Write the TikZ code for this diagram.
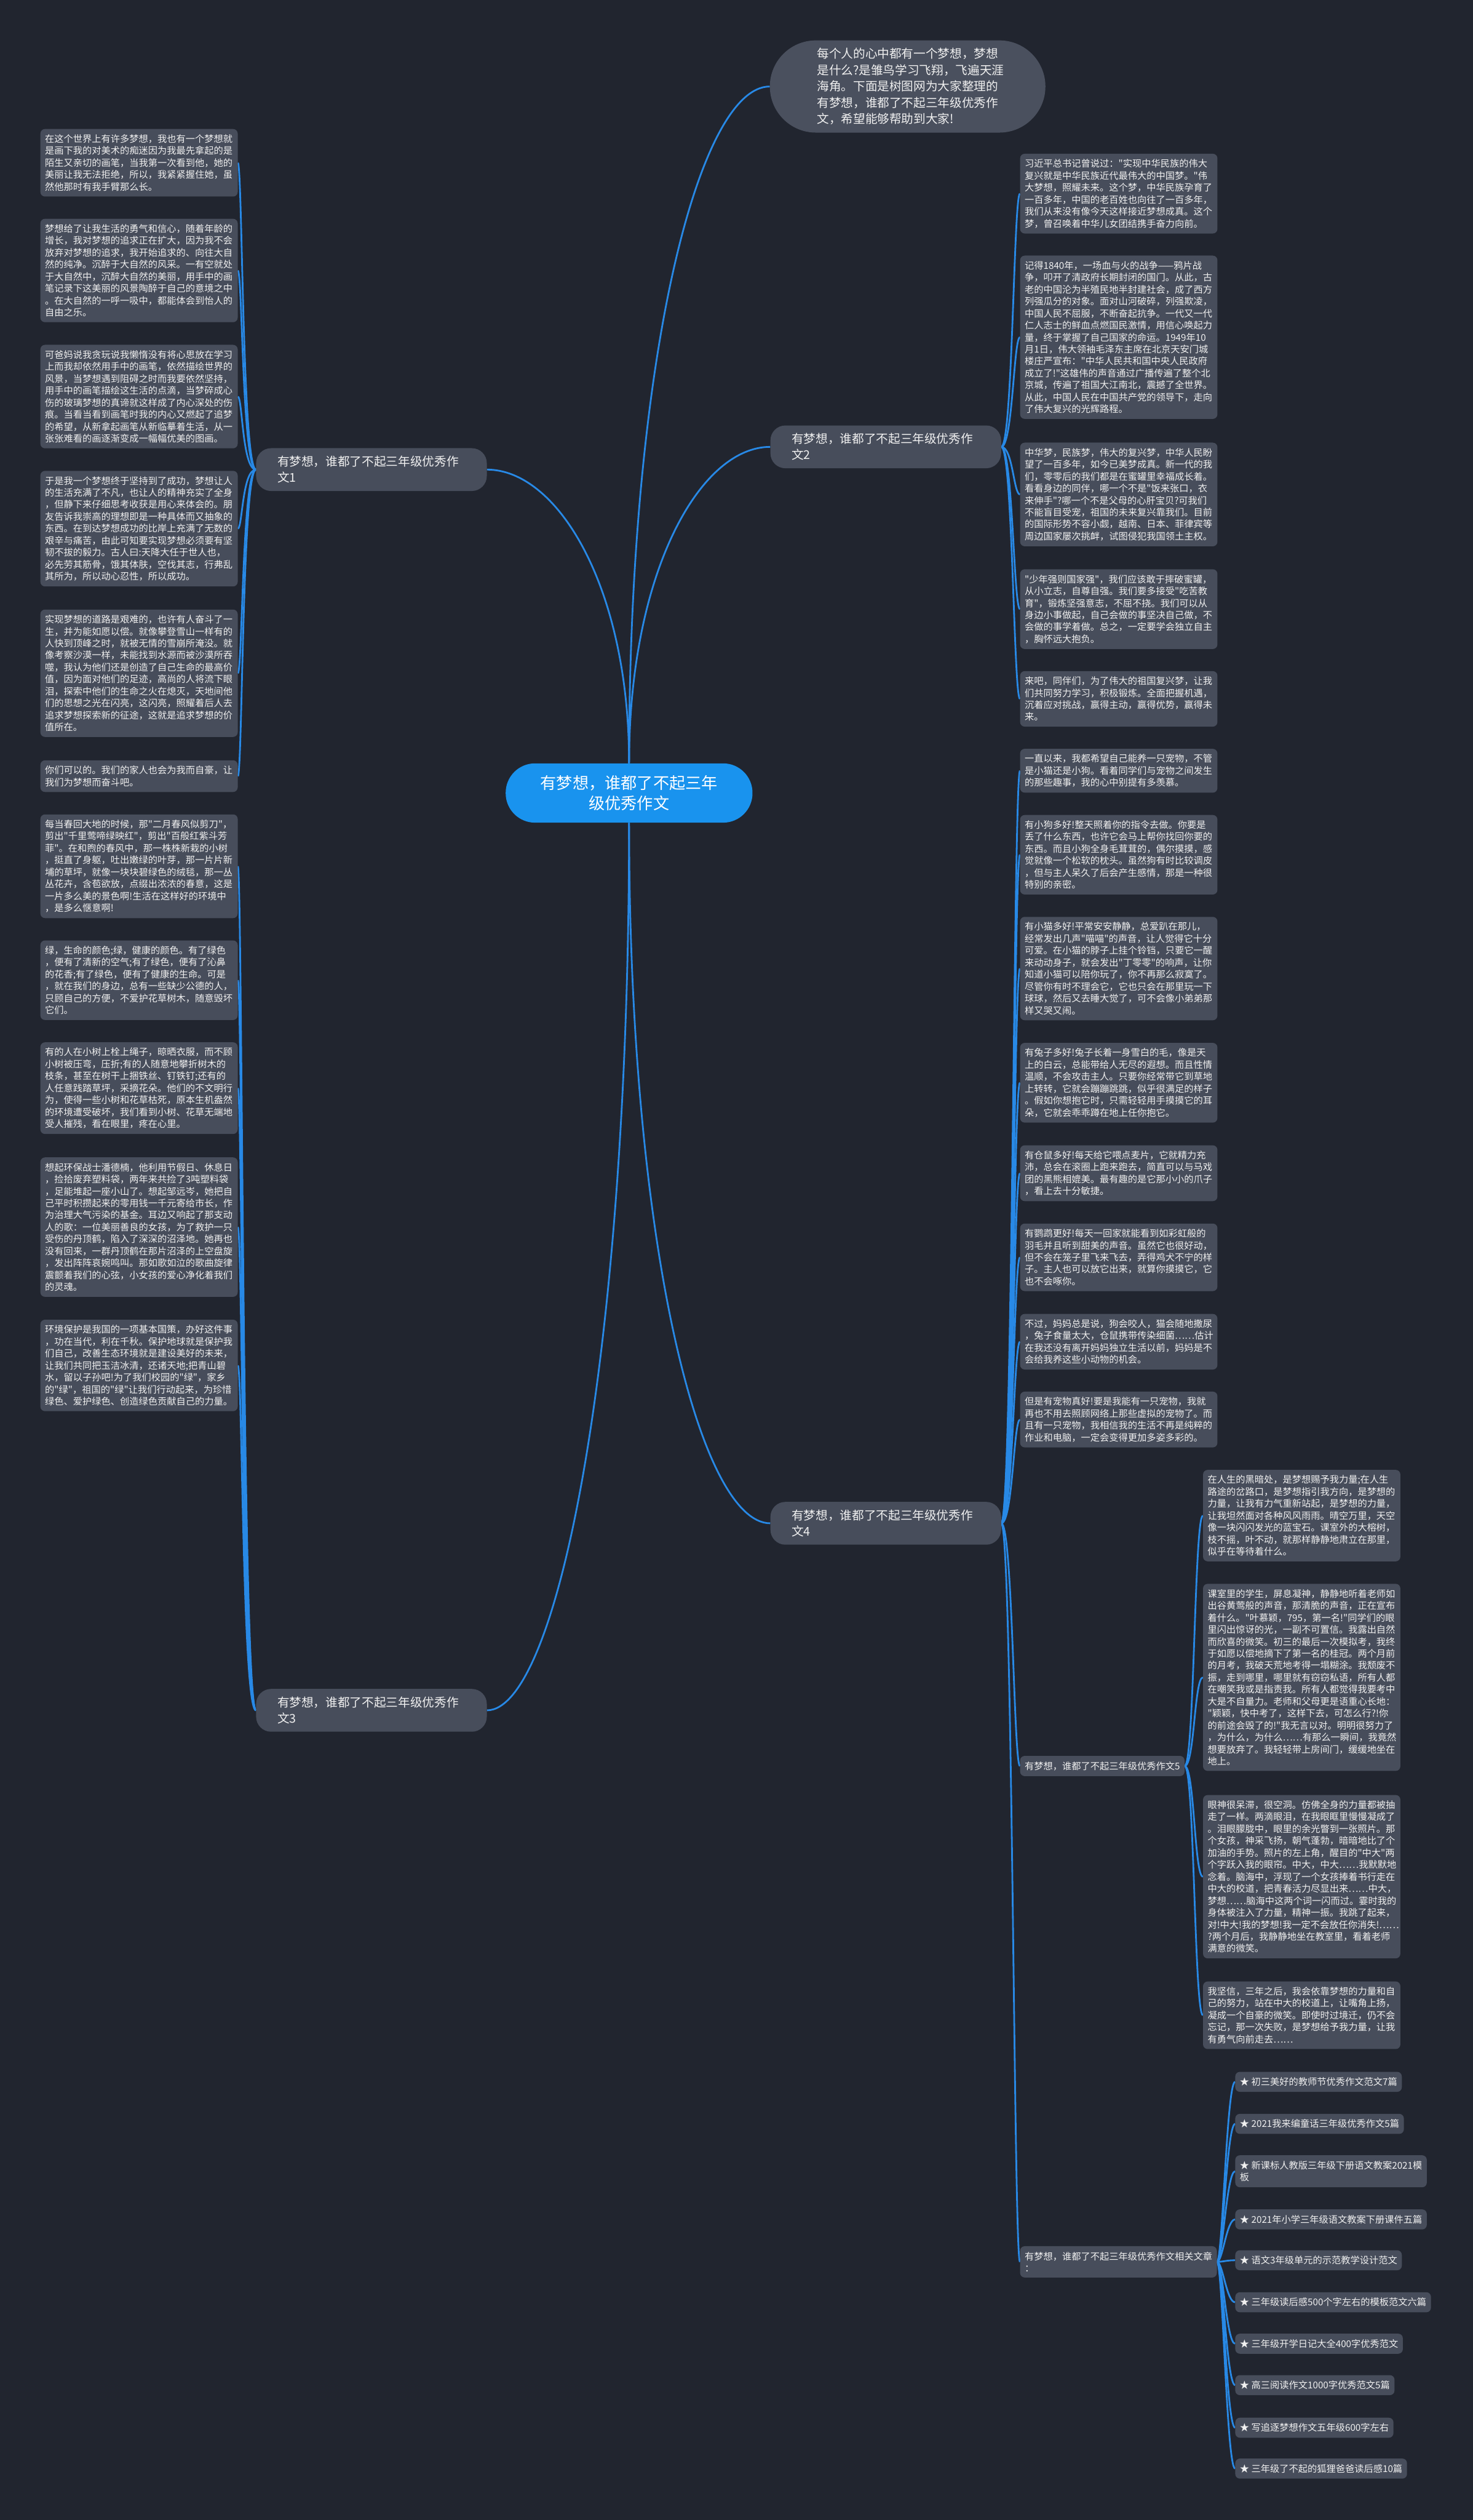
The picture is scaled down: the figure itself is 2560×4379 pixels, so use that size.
\documentclass[tikz,border=0pt]{standalone}
\usepackage{fontspec}
\newfontfamily\zhfont{Noto Sans CJK SC}
\usetikzlibrary{backgrounds}

\definecolor{bgc}{RGB}{33,37,47}
\definecolor{boxc}{RGB}{71,77,91}
\definecolor{topc}{RGB}{74,80,94}
\definecolor{ctrc}{RGB}{25,147,238}
\definecolor{linkc}{RGB}{40,137,230}
\definecolor{txtc}{RGB}{240,240,240}

\newcommand{\leaffont}{\zhfont\fontsize{16.3pt}{20.8pt}\selectfont}
\newcommand{\topicfont}{\zhfont\fontsize{21pt}{28pt}\selectfont}
\newcommand{\rootfont}{\zhfont\fontsize{28pt}{36pt}\selectfont}
\newcommand{\introfont}{\zhfont\fontsize{21pt}{28.3pt}\selectfont}

\tikzset{
  leaf/.style={fill=boxc, text=txtc, rounded corners=8pt, font=\leaffont,
    text width=327pt, align=left, inner xsep=8pt, inner ysep=9.5pt, anchor=north west},
  item/.style={fill=boxc, text=txtc, rounded corners=8pt, font=\leaffont,
    align=left, inner xsep=8pt, inner ysep=9.8pt, anchor=north west},
  topic/.style={fill=boxc, text=txtc, rounded corners=26pt, font=\topicfont,
    text width=327pt, align=left, inner xsep=37pt, inner ysep=13.5pt, anchor=west},
  link/.style={draw=linkc, line width=3pt},
}

\begin{document}
\begin{tikzpicture}[x=1pt,y=-1pt]
\useasboundingbox (0,0) rectangle (2560,4379);

% centre and intro
\node[fill=ctrc, text=white, rounded corners=51pt, font=\rootfont, align=center,
  minimum width=429pt, minimum height=103pt] (ctr) at (1093.5,1378)
  {有梦想，谁都了不起三年\\级优秀作文};
\node[fill=topc, text=txtc, rounded corners=80pt, font=\introfont, text width=315pt,
  align=left, inner xsep=82pt, inner ysep=13.5pt, anchor=north west] (intro) at (1338,70)
  {每个人的心中都有一个梦想，梦想\\是什么?是雏鸟学习飞翔，飞遍天涯\\海角。下面是树图网为大家整理的\\有梦想，谁都了不起三年级优秀作\\文，希望能够帮助到大家!};

% main topics
\node[topic] (b1) at (445,816) {有梦想，谁都了不起三年级优秀作\\文1};
\node[topic] (b2) at (1339,776.5) {有梦想，谁都了不起三年级优秀作\\文2};
\node[topic] (b3) at (445,2972) {有梦想，谁都了不起三年级优秀作\\文3};
\node[topic] (b4) at (1339,2647) {有梦想，谁都了不起三年级优秀作\\文4};

% topic 1
\node[leaf] (l1) at (70,224) {在这个世界上有许多梦想，我也有一个梦想就\\是画下我的对美术的痴迷因为我最先拿起的是\\陌生又亲切的画笔，当我第一次看到他，她的\\美丽让我无法拒绝，所以，我紧紧握住她，虽\\然他那时有我手臂那么长。};
\node[leaf] (l2) at (70,380) {梦想给了让我生活的勇气和信心，随着年龄的\\增长，我对梦想的追求正在扩大，因为我不会\\放弃对梦想的追求，我开始追求的、向往大自\\然的纯净。沉醉于大自然的风采。一有空就处\\于大自然中，沉醉大自然的美丽，用手中的画\\笔记录下这美丽的风景陶醉于自己的意境之中\\。在大自然的一呼一吸中，都能体会到怡人的\\自由之乐。};
\node[leaf] (l3) at (70,599) {可爸妈说我贪玩说我懒惰没有将心思放在学习\\上而我却依然用手中的画笔，依然描绘世界的\\风景，当梦想遇到阻碍之时而我要依然坚持，\\用手中的画笔描绘这生活的点滴，当梦碎成心\\伤的玻璃梦想的真谛就这样成了内心深处的伤\\痕。当看当看到画笔时我的内心又燃起了追梦\\的希望，从新拿起画笔从新临摹着生活，从一\\张张难看的画逐渐变成一幅幅优美的图画。};
\node[leaf] (l4) at (70,818) {于是我一个梦想终于坚持到了成功，梦想让人\\的生活充满了不凡，也让人的精神充实了全身\\，但静下来仔细思考收获是用心来体会的。朋\\友告诉我崇高的理想即是一种具体而又抽象的\\东西。在到达梦想成功的比岸上充满了无数的\\艰辛与痛苦，由此可知要实现梦想必须要有坚\\韧不拔的毅力。古人曰:天降大任于世人也，\\必先劳其筋骨，饿其体肤，空伐其志，行弗乱\\其所为，所以动心忍性，所以成功。};
\node[leaf] (l5) at (70,1059) {实现梦想的道路是艰难的，也许有人奋斗了一\\生，并为能如愿以偿。就像攀登雪山一样有的\\人快到顶峰之时，就被无情的雪崩所淹没。就\\像考察沙漠一样，未能找到水源而被沙漠所吞\\噬，我认为他们还是创造了自己生命的最高价\\值，因为面对他们的足迹，高尚的人将流下眼\\泪，探索中他们的生命之火在熄灭，天地间他\\们的思想之光在闪亮，这闪亮，照耀着后人去\\追求梦想探索新的征途，这就是追求梦想的价\\值所在。};
\node[leaf] (l6) at (70,1321) {你们可以的。我们的家人也会为我而自豪，让\\我们为梦想而奋斗吧。};

% topic 3
\node[leaf] (l7) at (70,1415) {每当春回大地的时候，那"二月春风似剪刀"，\\剪出"千里莺啼绿映红"，剪出"百般红紫斗芳\\菲"。在和煦的春风中，那一株株新栽的小树\\，挺直了身躯，吐出嫩绿的叶芽，那一片片新\\埔的草坪，就像一块块碧绿色的绒毯，那一丛\\丛花卉，含苞欲放，点缀出浓浓的春意，这是\\一片多么美的景色啊!生活在这样好的环境中\\，是多么惬意啊!};
\node[leaf] (l8) at (70,1634) {绿，生命的颜色;绿，健康的颜色。有了绿色\\，便有了清新的空气;有了绿色，便有了沁鼻\\的花香;有了绿色，便有了健康的生命。可是\\，就在我们的身边，总有一些缺少公德的人，\\只顾自己的方便，不爱护花草树木，随意毁坏\\它们。};
\node[leaf] (l9) at (70,1811) {有的人在小树上栓上绳子，晾晒衣服，而不顾\\小树被压弯，压折;有的人随意地攀折树木的\\枝条，甚至在树干上捆铁丝、钉铁钉;还有的\\人任意践踏草坪，采摘花朵。他们的不文明行\\为，使得一些小树和花草枯死，原本生机盎然\\的环境遭受破坏，我们看到小树、花草无端地\\受人摧残，看在眼里，疼在心里。};
\node[leaf] (l10) at (70,2011) {想起环保战士潘德楠，他利用节假日、休息日\\，捡拾废弃塑料袋，两年来共捡了3吨塑料袋\\，足能堆起一座小山了。想起邹远岑，她把自\\己平时积攒起来的零用钱一千元寄给市长，作\\为治理大气污染的基金。耳边又响起了那支动\\人的歌：一位美丽善良的女孩，为了救护一只\\受伤的丹顶鹤，陷入了深深的沼泽地。她再也\\没有回来，一群丹顶鹤在那片沼泽的上空盘旋\\，发出阵阵哀婉鸣叫。那如歌如泣的歌曲旋律\\震颤着我们的心弦，小女孩的爱心净化着我们\\的灵魂。};
\node[leaf] (l11) at (70,2293) {环境保护是我国的一项基本国策，办好这件事\\，功在当代，利在千秋。保护地球就是保护我\\们自己，改善生态环境就是建设美好的未来，\\让我们共同把玉洁冰清，还诸天地;把青山碧\\水，留以子孙吧!为了我们校园的"绿"，家乡\\的"绿"，祖国的"绿"让我们行动起来，为珍惜\\绿色、爱护绿色、创造绿色贡献自己的力量。};

% topic 2
\node[leaf] (r1) at (1773,267) {习近平总书记曾说过："实现中华民族的伟大\\复兴就是中华民族近代最伟大的中国梦。"伟\\大梦想，照耀未来。这个梦，中华民族孕育了\\一百多年，中国的老百姓也向往了一百多年，\\我们从来没有像今天这样接近梦想成真。这个\\梦，曾召唤着中华儿女团结携手奋力向前。};
\node[leaf] (r2) at (1773,444) {记得1840年，一场血与火的战争——鸦片战\\争，叩开了清政府长期封闭的国门。从此，古\\老的中国沦为半殖民地半封建社会，成了西方\\列强瓜分的对象。面对山河破碎，列强欺凌，\\中国人民不屈服，不断奋起抗争。一代又一代\\仁人志士的鲜血点燃国民激情，用信心唤起力\\量，终于掌握了自己国家的命运。1949年10\\月1日，伟大领袖毛泽东主席在北京天安门城\\楼庄严宣布："中华人民共和国中央人民政府\\成立了!"这雄伟的声音通过广播传遍了整个北\\京城，传遍了祖国大江南北，震撼了全世界。\\从此，中国人民在中国共产党的领导下，走向\\了伟大复兴的光辉路程。};
\node[leaf] (r3) at (1773,769) {中华梦，民族梦，伟大的复兴梦，中华人民盼\\望了一百多年，如今已美梦成真。新一代的我\\们，零零后的我们都是在蜜罐里幸福成长着。\\看看身边的同伴，哪一个不是"饭来张口，衣\\来伸手"?哪一个不是父母的心肝宝贝?可我们\\不能盲目受宠，祖国的未来复兴靠我们。目前\\的国际形势不容小觑，越南、日本、菲律宾等\\周边国家屡次挑衅，试图侵犯我国领土主权。};
\node[leaf] (r4) at (1773,989) {"少年强则国家强"，我们应该敢于摔破蜜罐，\\从小立志，自尊自强。我们要多接受"吃苦教\\育"，锻炼坚强意志，不屈不挠。我们可以从\\身边小事做起，自己会做的事坚决自己做，不\\会做的事学着做。总之，一定要学会独立自主\\，胸怀远大抱负。};
\node[leaf] (r5) at (1773,1166) {来吧，同伴们，为了伟大的祖国复兴梦，让我\\们共同努力学习，积极锻炼。全面把握机遇，\\沉着应对挑战，赢得主动，赢得优势，赢得未\\来。};

% topic 4
\node[leaf] (r6) at (1773,1301) {一直以来，我都希望自己能养一只宠物，不管\\是小猫还是小狗。看着同学们与宠物之间发生\\的那些趣事，我的心中别提有多羡慕。};
\node[leaf] (r7) at (1773,1416) {有小狗多好!整天照着你的指令去做。你要是\\丢了什么东西，也许它会马上帮你找回你要的\\东西。而且小狗全身毛茸茸的，偶尔摸摸，感\\觉就像一个松软的枕头。虽然狗有时比较调皮\\，但与主人呆久了后会产生感情，那是一种很\\特别的亲密。};
\node[leaf] (r8) at (1773,1593) {有小猫多好!平常安安静静，总爱趴在那儿，\\经常发出几声"喵喵"的声音，让人觉得它十分\\可爱。在小猫的脖子上挂个铃铛，只要它一醒\\来动动身子，就会发出"丁零零"的响声，让你\\知道小猫可以陪你玩了，你不再那么寂寞了。\\尽管你有时不理会它，它也只会在那里玩一下\\球球，然后又去睡大觉了，可不会像小弟弟那\\样又哭又闹。};
\node[leaf] (r9) at (1773,1812) {有兔子多好!兔子长着一身雪白的毛，像是天\\上的白云，总能带给人无尽的遐想。而且性情\\温顺，不会攻击主人。只要你经常带它到草地\\上转转，它就会蹦蹦跳跳，似乎很满足的样子\\。假如你想抱它时，只需轻轻用手摸摸它的耳\\朵，它就会乖乖蹲在地上任你抱它。};
\node[leaf] (r10) at (1773,1990) {有仓鼠多好!每天给它喂点麦片，它就精力充\\沛，总会在滚圈上跑来跑去，简直可以与马戏\\团的黑熊相媲美。最有趣的是它那小小的爪子\\，看上去十分敏捷。};
\node[leaf] (r11) at (1773,2126) {有鹦鹉更好!每天一回家就能看到如彩虹般的\\羽毛并且听到甜美的声音。虽然它也很好动，\\但不会在笼子里飞来飞去，弄得鸡犬不宁的样\\子。主人也可以放它出来，就算你摸摸它，它\\也不会啄你。};
\node[leaf] (r12) at (1773,2283) {不过，妈妈总是说，狗会咬人，猫会随地撒尿\\，兔子食量太大，仓鼠携带传染细菌……估计\\在我还没有离开妈妈独立生活以前，妈妈是不\\会给我养这些小动物的机会。};
\node[leaf] (r13) at (1773,2418) {但是有宠物真好!要是我能有一只宠物，我就\\再也不用去照顾网络上那些虚拟的宠物了。而\\且有一只宠物，我相信我的生活不再是纯粹的\\作业和电脑，一定会变得更加多姿多彩的。};
\node[item] (s5) at (1773,3051) {有梦想，谁都了不起三年级优秀作文5};
\node[item] (rel) at (1773,3903) {有梦想，谁都了不起三年级优秀作文相关文章\\：};

% topic 5
\node[leaf] (f1) at (2091,2554) {在人生的黑暗处，是梦想赐予我力量;在人生\\路途的岔路口，是梦想指引我方向，是梦想的\\力量，让我有力气重新站起，是梦想的力量，\\让我坦然面对各种风风雨雨。晴空万里，天空\\像一块闪闪发光的蓝宝石。课室外的大榕树，\\枝不摇，叶不动，就那样静静地肃立在那里，\\似乎在等待着什么。};
\node[leaf] (f2) at (2091,2752) {课室里的学生，屏息凝神，静静地听着老师如\\出谷黄莺般的声音，那清脆的声音，正在宣布\\着什么。"叶慕颖，795，第一名!"同学们的眼\\里闪出惊讶的光，一副不可置信。我露出自然\\而欣喜的微笑。初三的最后一次模拟考，我终\\于如愿以偿地摘下了第一名的桂冠。两个月前\\的月考，我破天荒地考得一塌糊涂。我颓废不\\振，走到哪里，哪里就有窃窃私语，所有人都\\在嘲笑我或是指责我。所有人都觉得我要考中\\大是不自量力。老师和父母更是语重心长地：\\"颖颖，快中考了，这样下去，可怎么行?!你\\的前途会毁了的!"我无言以对。明明很努力了\\，为什么，为什么……有那么一瞬间，我竟然\\想要放弃了。我轻轻带上房间门，缓缓地坐在\\地上。};
\node[leaf] (f3) at (2091,3119) {眼神很呆滞，很空洞。仿佛全身的力量都被抽\\走了一样。两滴眼泪，在我眼眶里慢慢凝成了\\。泪眼朦胧中，眼里的余光瞥到一张照片。那\\个女孩，神采飞扬，朝气蓬勃，暗暗地比了个\\加油的手势。照片的左上角，醒目的"中大"两\\个字跃入我的眼帘。中大，中大……我默默地\\念着。脑海中，浮现了一个女孩捧着书行走在\\中大的校道，把青春活力尽显出来……中大，\\梦想……脑海中这两个词一闪而过。霎时我的\\身体被注入了力量，精神一振。我跳了起来，\\对!中大!我的梦想!我一定不会放任你消失!……\\?两个月后，我静静地坐在教室里，看着老师\\满意的微笑。};
\node[leaf] (f4) at (2091,3443) {我坚信，三年之后，我会依靠梦想的力量和自\\己的努力，站在中大的校道上，让嘴角上扬，\\凝成一个自豪的微笑。即使时过境迁，仍不会\\忘记，那一次失败，是梦想给予我力量，让我\\有勇气向前走去……};

% related articles
\node[item] (i1) at (2147,3600) {★ 初三美好的教师节优秀作文范文7篇};
\node[item] (i2) at (2147,3673) {★ 2021我来编童话三年级优秀作文5篇};
\node[item] (i3) at (2147,3745) {★ 新课标人教版三年级下册语文教案2021模\\板};
\node[item] (i4) at (2147,3839) {★ 2021年小学三年级语文教案下册课件五篇};
\node[item] (i5) at (2147,3910) {★ 语文3年级单元的示范教学设计范文};
\node[item] (i6) at (2147,3983) {★ 三年级读后感500个字左右的模板范文六篇};
\node[item] (i7) at (2147,4055) {★ 三年级开学日记大全400字优秀范文};
\node[item] (i8) at (2147,4127) {★ 高三阅读作文1000字优秀范文5篇};
\node[item] (i9) at (2147,4201) {★ 写追逐梦想作文五年级600字左右};
\node[item] (i10) at (2147,4272) {★ 三年级了不起的狐狸爸爸读后感10篇};

\begin{pgfonlayer}{background}
\fill[bgc] (0,0) rectangle (2560,4379);
% centre links
\draw[link] (ctr.north) .. controls +(0,-706) and +(-123,0) .. (intro.west);
\draw[link] (ctr.north) .. controls +(0,-330) and +(-123,0) .. (b2.west);
\draw[link] (ctr.north) .. controls +(0,-306) and +(123,0) .. (b1.east);
\draw[link] (ctr.south) .. controls +(0,730) and +(-123,0) .. (b4.west);
\draw[link] (ctr.south) .. controls +(0,925) and +(123,0) .. (b3.east);
% topic links
\foreach \i in {1,...,6}
  \draw[link] (b1.west) .. controls +(-24,0) and +(8,0) .. (l\i.east);
\foreach \i in {7,...,11}
  \draw[link] (b3.west) .. controls +(-24,0) and +(8,0) .. (l\i.east);
\foreach \i in {1,...,5}
  \draw[link] (b2.east) .. controls +(20,0) and +(-11,0) .. (r\i.west);
\foreach \n in {r6,r7,r8,r9,r10,r11,r12,r13,s5,rel}
  \draw[link] (b4.east) .. controls +(20,0) and +(-11,0) .. (\n.west);
\foreach \i in {1,...,4}
  \draw[link] (s5.east) .. controls +(17,0) and +(-15,0) .. (f\i.west);
\foreach \i in {1,...,10}
  \draw[link] (rel.east) .. controls +(10,0) and +(-15,0) .. (i\i.west);
\end{pgfonlayer}
\end{tikzpicture}
\end{document}
